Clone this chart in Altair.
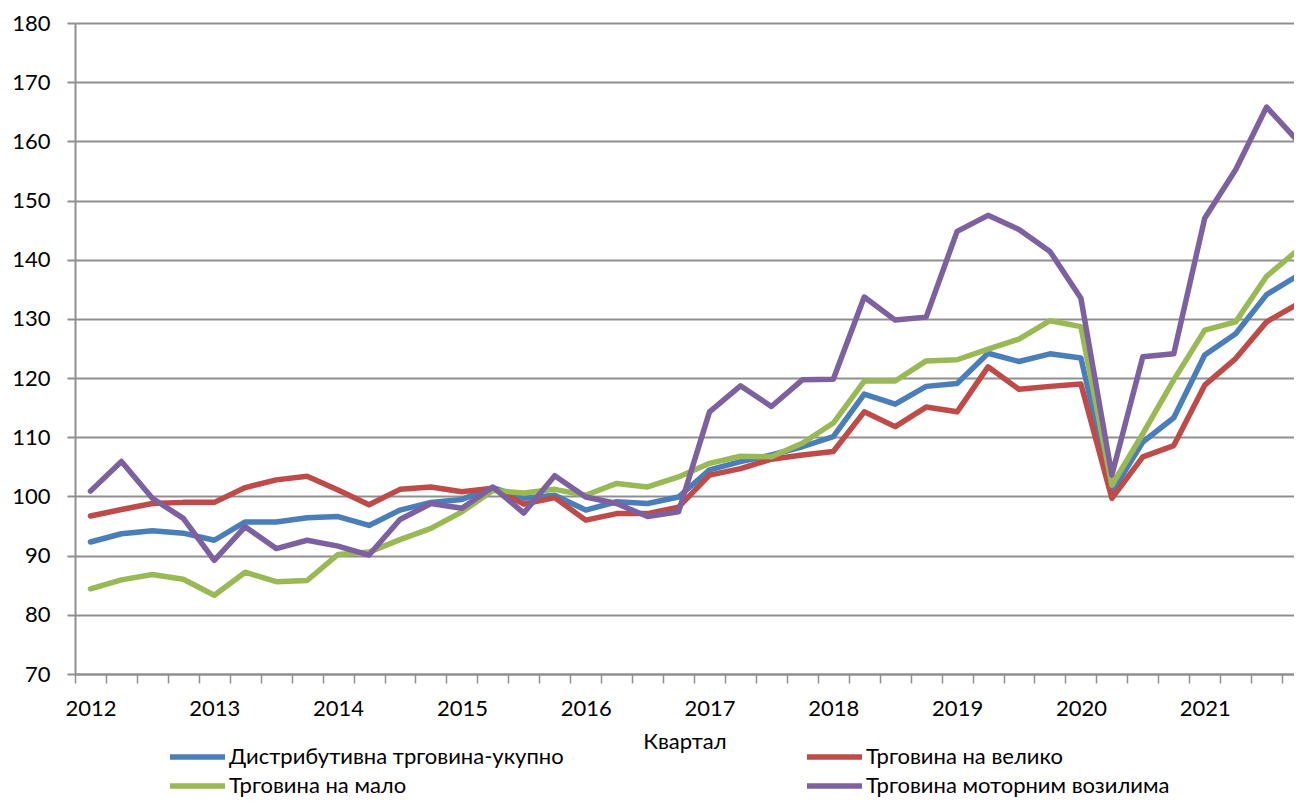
import altair as alt
import pandas as pd

years = ["2012", "2013", "2014", "2015", "2016", "2017", "2018", "2019", "2020", "2021"]
series_names = [
    "Дистрибутивна трговина-укупно",
    "Трговина на велико",
    "Трговина на мало",
    "Трговина моторним возилима",
]
colors = ["#4A7EBB", "#BE4B48", "#98B954", "#7D60A0"]

total = [92.3, 93.7, 94.2, 93.8, 92.6, 95.7, 95.7, 96.4, 96.6, 95.1,
         97.7, 99.0, 99.5, 101.5, 99.7, 100.2, 97.7, 99.1, 98.8, 99.9,
         104.5, 105.9, 107.0, 108.4, 110.1, 117.3, 115.6, 118.6, 119.1, 124.2,
         122.8, 124.1, 123.4, 100.7, 109.2, 113.3, 123.9, 127.5, 134.1, 137.3]
wholesale = [96.7, 97.8, 98.8, 99.0, 99.0, 101.5, 102.8, 103.4, 101.1, 98.6,
             101.2, 101.6, 100.8, 101.4, 98.7, 99.8, 96.0, 97.1, 97.1, 98.2,
             103.6, 104.7, 106.3, 107.0, 107.6, 114.3, 111.8, 115.1, 114.3, 121.9,
             118.1, 118.6, 119.0, 99.7, 106.7, 108.6, 118.8, 123.3, 129.5, 132.5]
retail = [84.4, 85.9, 86.8, 86.0, 83.3, 87.2, 85.6, 85.8, 90.2, 90.6,
          92.7, 94.6, 97.4, 101.0, 100.6, 101.2, 100.2, 102.2, 101.6, 103.3,
          105.6, 106.8, 106.7, 109.0, 112.4, 119.5, 119.5, 122.9, 123.1, 124.9,
          126.6, 129.7, 128.7, 101.9, 110.6, 119.7, 128.1, 129.5, 137.2, 141.6]
motor = [100.9, 105.9, 99.7, 96.3, 89.2, 94.9, 91.2, 92.6, 91.6, 90.1,
         96.1, 98.8, 98.0, 101.6, 97.2, 103.5, 99.9, 98.8, 96.6, 97.4,
         114.3, 118.7, 115.2, 119.7, 119.8, 133.7, 129.8, 130.3, 144.8, 147.5,
         145.1, 141.4, 133.5, 103.6, 123.6, 124.1, 147.0, 155.2, 165.8, 160.1]

all_series = [total, wholesale, retail, motor]
rows = []
for k, (name, vals) in enumerate(zip(series_names, all_series)):
    for i, v in enumerate(vals):
        rows.append({"q": i, "series": name, "value": v, "ord": k})
df = pd.DataFrame(rows)

n_q = len(total)
boundaries = [k - 0.5 for k in range(n_q)]
years_js = "[" + ",".join("'" + y + "'" for y in years) + "]"
label_expr = f"((datum.value + 0.5) % 4 == 0) ? {years_js}[(datum.value + 0.5) / 4] : ''"

FONT = "Lato"
GRID = "#8f8f8f"

chart = alt.Chart(df).mark_line(strokeWidth=5.5, strokeJoin="round", strokeCap="round").encode(
    x=alt.X("q:Q",
            scale=alt.Scale(domain=[-0.5, 38.885], nice=False, zero=False),
            axis=alt.Axis(values=boundaries, labelExpr=label_expr, labelOffset=15.5,
                          labelOverlap=False, labelFlush=False, labelBound=False,
                          grid=False, tickSize=9, tickColor=GRID, tickWidth=1.5,
                          domainColor=GRID, domainWidth=2,
                          labelFont=FONT, labelFontSize=22, labelColor="black",
                          labelPadding=15,
                          title="Квартал", titleFont=FONT, titleFontSize=22,
                          titleFontWeight="normal", titleColor="black", titlePadding=12)),
    y=alt.Y("value:Q",
            scale=alt.Scale(domain=[70, 180], nice=False, zero=False),
            axis=alt.Axis(values=list(range(70, 181, 10)), grid=True, gridColor=GRID,
                          gridWidth=2, tickSize=8, tickColor=GRID, tickWidth=2,
                          domainColor=GRID, domainWidth=2,
                          labelFont=FONT, labelFontSize=22, labelColor="black",
                          labelPadding=17, title=None)),
    color=alt.Color("series:N",
                    scale=alt.Scale(domain=series_names, range=colors),
                    legend=alt.Legend(orient="none", legendX=108.5, legendY=720,
                                      columns=2, direction="horizontal", title=None,
                                      symbolType="M-2.5,0H2.5", symbolSize=484,
                                      symbolStrokeWidth=5.5, labelOffset=17.5,
                                      labelFont=FONT, labelFontSize=22, labelColor="black",
                                      labelLimit=0, columnPadding=231, rowPadding=4,
                                      padding=0)),
    order=alt.Order("ord:Q"),
).properties(
    width=1219,
    height=651,
    autosize=alt.AutoSizeParams(type="none"),
    padding={"left": 67, "top": 15, "right": 0, "bottom": 125},
).configure_view(stroke=None)

chart.save("out.html", embed_options={"renderer": "svg", "actions": False})
